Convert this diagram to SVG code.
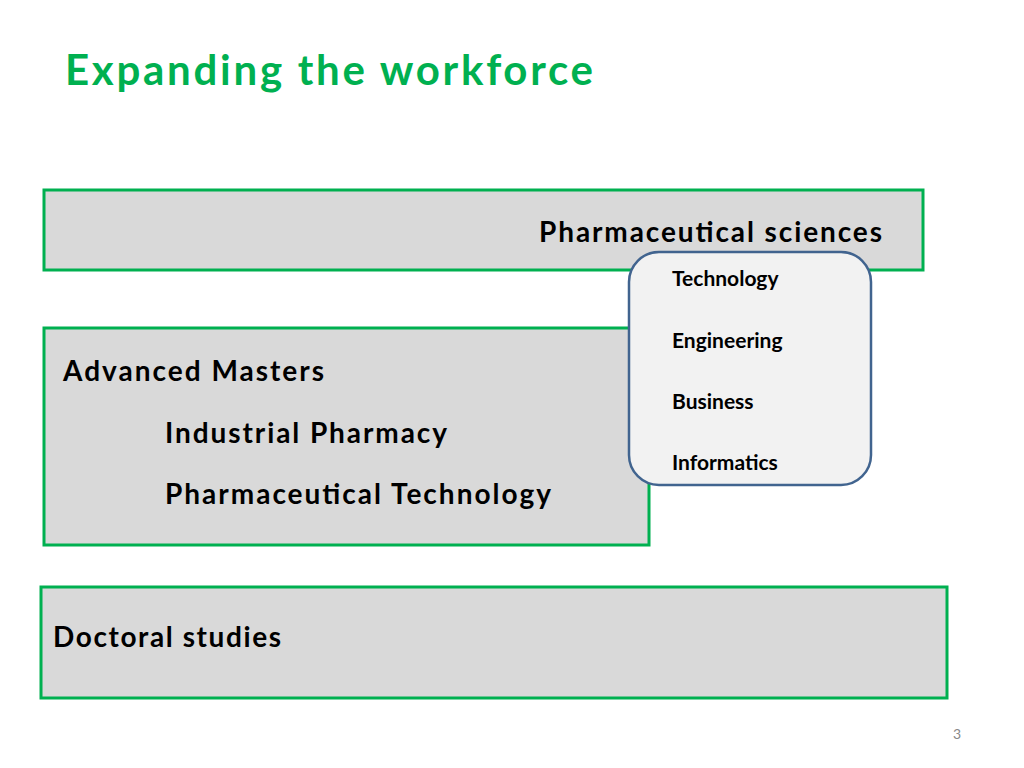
<svg xmlns="http://www.w3.org/2000/svg" width="1024" height="768" viewBox="0 0 1024 768">
<style>
.box{fill:#D9D9D9;stroke:#00B050;stroke-width:3}
.t{font-family:Lato,"Open Sans",sans-serif;font-weight:bold;fill:#000}
.b{font-size:28px}
.s{font-size:21px}
</style>
<rect width="1024" height="768" fill="#fff"/>
<text x="65" y="85" class="t" style="font-size:42px;fill:#00B050" textLength="528">Expanding the workforce</text>
<g id="pharm"><rect class="box" x="44" y="190" width="879" height="80"/><text class="t b" x="539" y="242" textLength="343">Pharmaceutical sciences</text></g>
<g id="masters"><rect class="box" x="44" y="328" width="605" height="217"/>
<text class="t b" x="63" y="381" textLength="261">Advanced Masters</text>
<text class="t b" x="165" y="443" textLength="282">Industrial Pharmacy</text>
<text class="t b" x="165" y="504" textLength="386">Pharmaceutical Technology</text></g>
<g id="doctoral"><rect class="box" x="41" y="587" width="906" height="111"/><text class="t b" x="53" y="647" textLength="228">Doctoral studies</text></g>
<g id="fields"><rect x="629" y="252" width="242" height="233" rx="30" fill="#F2F2F2" stroke="#41648F" stroke-width="2.5"/>
<text class="t s" x="672" y="286">Technology</text>
<text class="t s" x="672" y="348">Engineering</text>
<text class="t s" x="672" y="409">Business</text>
<text class="t s" x="672" y="470">Informatics</text></g>
<g id="connectors"/>
<text x="953" y="739" style="font-family:Lato,sans-serif;font-size:14px;fill:#888">3</text>
</svg>
